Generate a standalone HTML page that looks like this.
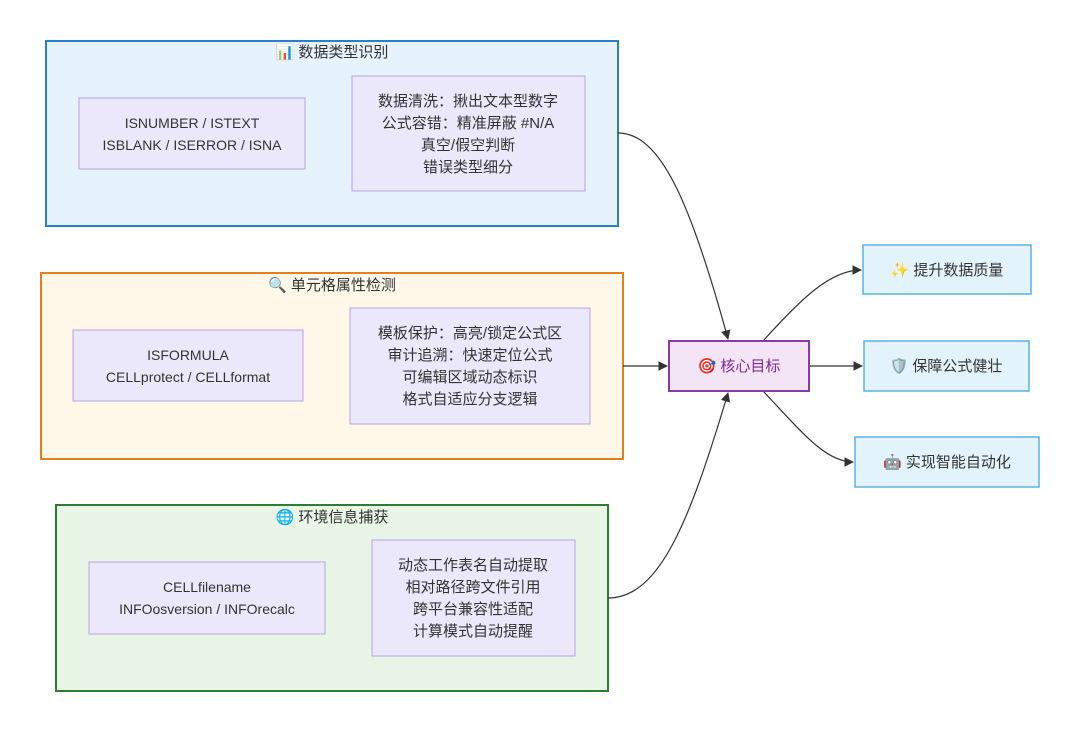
<!DOCTYPE html>
<html><head><meta charset="utf-8"><style>
body{margin:0;background:#fff;}
svg text{font-family:"Liberation Sans","Noto Sans CJK SC",sans-serif;font-size:15px;fill:#333;text-anchor:middle;}
svg text.l{font-size:14px;}
</style></head><body>
<svg width="1080" height="732" viewBox="0 0 1080 732" xmlns="http://www.w3.org/2000/svg">
<defs><marker id="a" viewBox="0 0 10 10" refX="9" refY="5" markerWidth="8" markerHeight="8" orient="auto"><path d="M0,0L10,5L0,10z" fill="#333"/></marker></defs>
<rect width="1080" height="732" fill="#fff"/>
<rect x="46" y="41" width="572" height="185" fill="#e6f2fc" stroke="#2a7fc9" stroke-width="2"/>
<text x="332" y="57">📊 数据类型识别</text>
<rect x="79" y="98" width="226" height="71" fill="#ece8fb" stroke="#b9a4e6"/>
<text class="l" x="192" y="128">ISNUMBER / ISTEXT</text>
<text class="l" x="192" y="150">ISBLANK / ISERROR / ISNA</text>
<rect x="352" y="76" width="233" height="115" fill="#ece8fb" stroke="#b9a4e6"/>
<text x="468" y="106">数据清洗：揪出文本型数字</text>
<text x="468" y="128">公式容错：精准屏蔽 #N/A</text>
<text x="468" y="150">真空/假空判断</text>
<text x="468" y="172">错误类型细分</text>

<rect x="41" y="273" width="582" height="186" fill="#fff7e8" stroke="#e57f22" stroke-width="2"/>
<text x="332" y="290">🔍 单元格属性检测</text>
<rect x="73" y="330" width="230" height="71" fill="#ece8fb" stroke="#b9a4e6"/>
<text class="l" x="188" y="360">ISFORMULA</text>
<text class="l" x="188" y="382">CELLprotect / CELLformat</text>
<rect x="350" y="308" width="240" height="116" fill="#ece8fb" stroke="#b9a4e6"/>
<text x="470" y="338">模板保护：高亮/锁定公式区</text>
<text x="470" y="360">审计追溯：快速定位公式</text>
<text x="470" y="382">可编辑区域动态标识</text>
<text x="470" y="404">格式自适应分支逻辑</text>

<rect x="56" y="505" width="552" height="186" fill="#e9f5e6" stroke="#2f7d33" stroke-width="2"/>
<text x="332" y="522">🌐 环境信息捕获</text>
<rect x="89" y="562" width="236" height="72" fill="#ece8fb" stroke="#b9a4e6"/>
<text class="l" x="207" y="592">CELLfilename</text>
<text class="l" x="207" y="614">INFOosversion / INFOrecalc</text>
<rect x="372" y="540" width="203" height="116" fill="#ece8fb" stroke="#b9a4e6"/>
<text x="473" y="570">动态工作表名自动提取</text>
<text x="473" y="592">相对路径跨文件引用</text>
<text x="473" y="614">跨平台兼容性适配</text>
<text x="473" y="636">计算模式自动提醒</text>

<g fill="none" stroke="#333" stroke-width="1.2">
<path d="M618,133 C660,133 690,200 728,339" marker-end="url(#a)"/>
<path d="M623,366 L667,366" marker-end="url(#a)"/>
<path d="M608,598 C660,598 690,520 728,393" marker-end="url(#a)"/>
<path d="M763,341 C800,300 830,270 861,270" marker-end="url(#a)"/>
<path d="M809,366 L862,366" marker-end="url(#a)"/>
<path d="M763,391 C800,430 825,462 853,462" marker-end="url(#a)"/>
</g>

<rect x="669" y="341" width="140" height="50" fill="#f3e4f6" stroke="#8a3aa8" stroke-width="2"/>
<text x="739" y="371" style="fill:#7b2a99">🎯 核心目标</text>

<rect x="863" y="245" width="168" height="49" fill="#e2f3fb" stroke="#5ab3e0" stroke-width="1.5"/>
<text x="947" y="275">✨ 提升数据质量</text>
<rect x="864" y="341" width="165" height="50" fill="#e2f3fb" stroke="#5ab3e0" stroke-width="1.5"/>
<text x="946" y="371">🛡️ 保障公式健壮</text>
<rect x="855" y="437" width="184" height="50" fill="#e2f3fb" stroke="#5ab3e0" stroke-width="1.5"/>
<text x="947" y="467">🤖 实现智能自动化</text>
</svg>
</body></html>
